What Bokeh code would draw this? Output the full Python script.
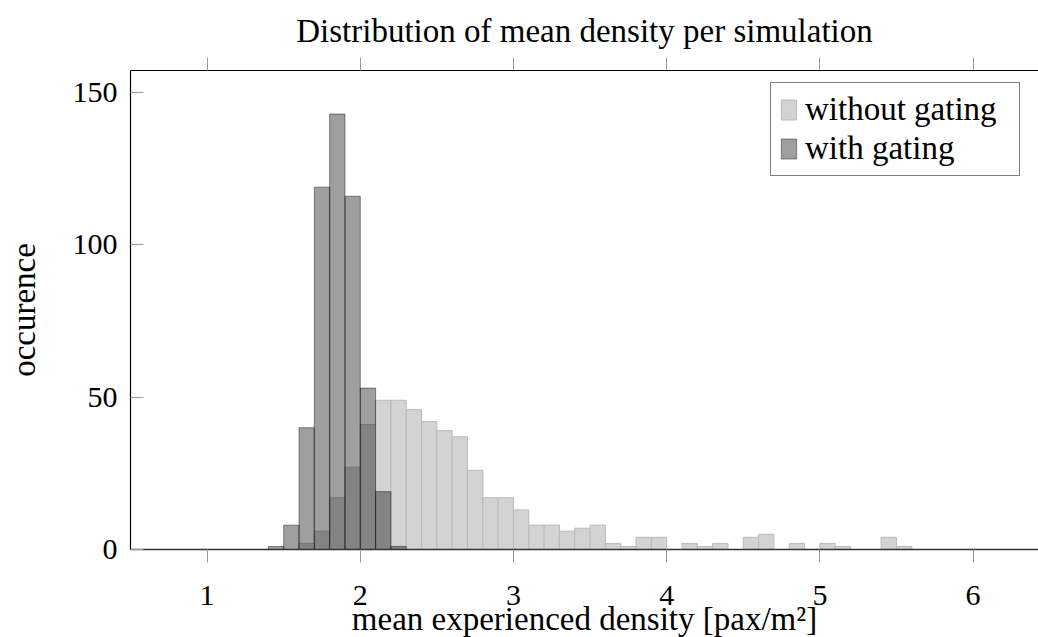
from bokeh.plotting import figure
from bokeh.models import ColumnDataSource, FixedTicker, LinearAxis, Legend, LegendItem, Range1d
from bokeh.embed import file_html
from bokeh.resources import INLINE

# Histogram bins (left edges, bin width 0.1)
bin_left = [1.4, 1.5, 1.6, 1.7, 1.8, 1.9, 2.0, 2.1, 2.2, 2.3, 2.4, 2.5, 2.6, 2.7,
            2.8, 2.9, 3.0, 3.1, 3.2, 3.3, 3.4, 3.5, 3.6, 3.7, 3.8, 3.9, 4.0, 4.1,
            4.2, 4.3, 4.4, 4.5, 4.6, 4.7, 4.8, 4.9, 5.0, 5.1, 5.2, 5.3, 5.4, 5.5]
bin_width = 0.1
without_gating = [0, 0, 2, 6, 17, 27, 41, 49, 49, 46, 42, 39, 37, 26,
                  17, 17, 13, 8, 8, 6, 7, 8, 2, 1, 4, 4, 0, 2,
                  1, 2, 0, 4, 5, 0, 2, 0, 2, 1, 0, 0, 4, 1]
with_gating = [1, 8, 40, 119, 143, 116, 53, 19, 1, 0, 0, 0, 0, 0,
               0, 0, 0, 0, 0, 0, 0, 0, 0, 0, 0, 0, 0, 0,
               0, 0, 0, 0, 0, 0, 0, 0, 0, 0, 0, 0, 0, 0]
x_ticks = [1, 2, 3, 4, 5, 6]
y_ticks = [0, 50, 100, 150]

FONT = "Liberation Serif"
FS = "33px"
TFS = "30px"

src = ColumnDataSource(dict(
    left=bin_left,
    right=[b + bin_width for b in bin_left],
    without=without_gating,
    with_g=with_gating,
))

p = figure(frame_width=908, frame_height=479,
           x_range=Range1d(0.5, 6.427), y_range=Range1d(0, 157.3),
           output_backend="svg", toolbar_location=None,
           min_border_left=130, min_border_right=0, min_border_top=70, min_border_bottom=88,
           background_fill_color="white", border_fill_color="white")

p.outline_line_color = None
p.grid.visible = False

r1 = p.quad(left="left", right="right", bottom=0, top="without", source=src,
            fill_color="#d3d3d3", line_color="#bababa", line_width=1)
r2 = p.quad(left="left", right="right", bottom=0, top="with_g", source=src,
            fill_color="black", fill_alpha=0.375, line_color="black", line_alpha=0.42, line_width=1)

# bottom axis
xa = p.xaxis[0]
xa.ticker = FixedTicker(ticks=x_ticks)
xa.axis_label = "mean experienced density [pax/m²]"
xa.axis_label_text_font = FONT
xa.axis_label_text_font_size = FS
xa.axis_label_text_font_style = "normal"
xa.axis_label_text_color = "black"
xa.axis_label_standoff = -7
xa.major_label_text_font = FONT
xa.major_label_text_font_size = TFS
xa.major_label_text_color = "black"
xa.major_label_standoff = 23
xa.major_tick_in = 0
xa.major_tick_out = 13
xa.major_tick_line_color = "#999999"
xa.minor_tick_line_color = None
xa.axis_line_color = "#333333"
xa.axis_line_width = 1.5

# left axis
ya = p.yaxis[0]
ya.ticker = FixedTicker(ticks=y_ticks)
ya.axis_label = "occurence"
ya.axis_label_text_font = FONT
ya.axis_label_text_font_size = FS
ya.axis_label_text_font_style = "normal"
ya.axis_label_text_color = "black"
ya.axis_label_standoff = 28
ya.major_label_text_font = FONT
ya.major_label_text_font_size = TFS
ya.major_label_text_color = "black"
ya.major_label_standoff = 13
ya.major_label_orientation = "horizontal"
ya.major_tick_in = 13
ya.major_tick_out = 0
ya.major_tick_line_color = "#999999"
ya.minor_tick_line_color = None
ya.axis_line_color = "black"
ya.axis_line_width = 1.2

# top axis (frame line with outward ticks, no labels)
ta = LinearAxis(ticker=FixedTicker(ticks=x_ticks))
ta.major_label_text_font_size = "1px"
ta.major_label_text_color = None
ta.major_label_standoff = 0
ta.major_tick_in = 0
ta.major_tick_out = 13
ta.major_tick_line_color = "#999999"
ta.minor_tick_line_color = None
ta.axis_line_color = "black"
ta.axis_line_width = 1.2
p.add_layout(ta, "above")

# title
p.title.text = "Distribution of mean density per simulation"
p.title.align = "center"
p.title.offset = 5
p.title.text_font = FONT
p.title.text_font_size = FS
p.title.text_font_style = "normal"
p.title.text_color = "black"
p.title.standoff = 18

legend = Legend(items=[LegendItem(label="without gating", renderers=[r1]),
                       LegendItem(label="with gating", renderers=[r2])],
                location=(640, 373))
legend.label_text_font = FONT
legend.label_text_font_size = FS
legend.label_text_color = "black"
legend.label_width = 206
legend.glyph_width = 19
legend.glyph_height = 25
legend.label_standoff = 7
legend.padding = 8
legend.spacing = 2
legend.border_line_color = "black"
legend.border_line_width = 1
legend.background_fill_alpha = 1
p.add_layout(legend)

open("out.html", "w").write(file_html(p, INLINE))
